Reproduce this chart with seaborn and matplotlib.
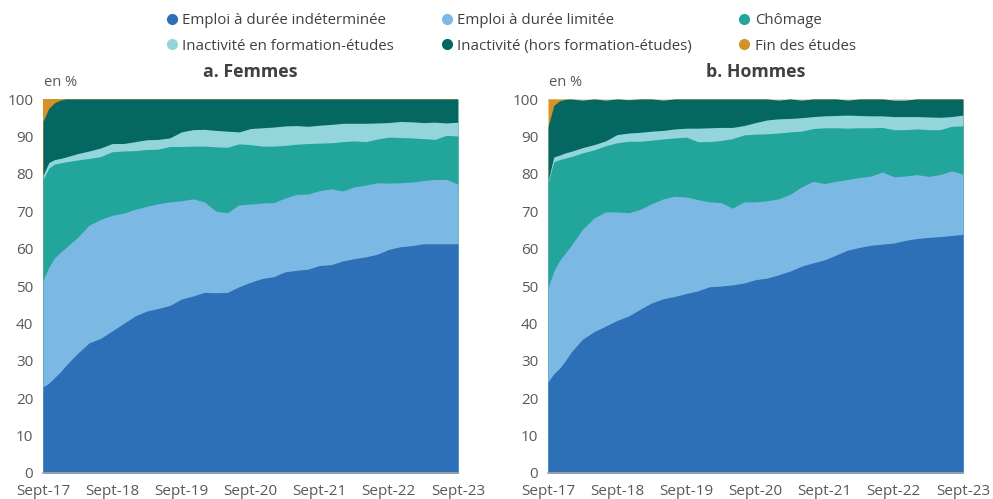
import numpy as np
import matplotlib
matplotlib.use("Agg")
import matplotlib.pyplot as plt
import seaborn as sns
from matplotlib.lines import Line2D

sns.set_theme(style="white")
plt.rcParams["font.family"] = ["Open Sans", "DejaVu Sans"]

# Months elapsed since September 2017
months = [0, 1, 2, 3, 4, 6, 8, 10, 12, 14, 16, 18, 20, 22, 24, 26, 28, 30, 32,
          34, 36, 38, 40, 42, 44, 46, 48, 50, 52, 54, 56, 58, 60, 62, 64, 66,
          68, 70, 72]
tick_months = [0, 12, 24, 36, 48, 60, 72]
tick_labels = ["Sept-17", "Sept-18", "Sept-19", "Sept-20", "Sept-21", "Sept-22", "Sept-23"]

series = ["Emploi à durée indéterminée", "Emploi à durée limitée", "Chômage",
          "Inactivité en formation-études", "Inactivité (hors formation-études)",
          "Fin des études"]
colors = ["#2e70b8", "#7bb9e4", "#22a59b", "#93d5da", "#056762", "#d49228"]

# Femmes : cumulative levels (upper edge of each layer, in %)
f_edi = [23.0, 24.0, 25.5, 27.0, 28.8, 32.0, 34.8, 36.0, 38.0, 40.0, 42.0, 43.3,
         44.0, 44.8, 46.5, 47.3, 48.3, 48.2, 48.3, 49.8, 51.0, 52.0, 52.5, 53.8,
         54.2, 54.5, 55.5, 55.7, 56.7, 57.3, 57.8, 58.5, 59.8, 60.5, 60.8, 61.3,
         61.3, 61.3, 61.3]
f_edl = [51.5, 55.0, 57.5, 59.0, 60.3, 63.0, 66.3, 67.8, 68.9, 69.5, 70.5, 71.3,
         72.0, 72.5, 72.8, 73.3, 72.5, 70.0, 69.6, 71.7, 71.9, 72.2, 72.3, 73.5,
         74.5, 74.6, 75.5, 76.0, 75.4, 76.5, 77.0, 77.6, 77.5, 77.6, 77.8, 78.2,
         78.5, 78.5, 77.2]
f_cho = [78.5, 81.5, 82.6, 82.9, 83.2, 83.7, 84.1, 84.6, 85.9, 86.1, 86.2, 86.5,
         86.6, 87.3, 87.3, 87.4, 87.4, 87.2, 87.1, 88.0, 87.8, 87.4, 87.4, 87.6,
         87.9, 88.1, 88.2, 88.3, 88.6, 88.8, 88.6, 89.3, 89.8, 89.7, 89.6, 89.4,
         89.2, 90.3, 90.1]
f_form = [79.5, 83.0, 83.8, 84.1, 84.5, 85.4, 86.1, 86.9, 88.1, 88.1, 88.6, 89.1,
          89.2, 89.6, 91.2, 91.8, 91.9, 91.6, 91.4, 91.2, 92.1, 92.3, 92.5, 92.8,
          92.9, 92.7, 93.0, 93.2, 93.5, 93.5, 93.5, 93.6, 93.7, 94.0, 93.9, 93.7,
          93.8, 93.6, 93.8]
f_hors = [94.0, 97.5, 99.0, 99.7] + [100.0] * 35
f_fin = [6.0, 2.5, 1.0, 0.3] + [0.0] * 35  # share, stacked on top

# Hommes : cumulative levels (upper edge of each layer, in %)
h_edi = [24.4, 26.5, 28.0, 30.0, 32.3, 35.8, 37.8, 39.3, 40.8, 42.0, 43.8, 45.5,
         46.6, 47.2, 48.0, 48.7, 49.8, 50.0, 50.3, 50.8, 51.7, 52.1, 53.0, 54.0,
         55.3, 56.2, 57.0, 58.3, 59.6, 60.3, 60.9, 61.2, 61.5, 62.2, 62.7, 63.0,
         63.2, 63.5, 63.8]
h_edl = [49.5, 54.0, 56.8, 58.8, 60.8, 65.2, 68.2, 69.8, 69.8, 69.6, 70.5, 72.0,
         73.3, 74.0, 73.8, 73.1, 72.5, 72.3, 70.8, 72.5, 72.5, 72.8, 73.3, 74.5,
         76.5, 78.0, 77.4, 78.0, 78.5, 79.0, 79.4, 80.5, 79.2, 79.4, 79.8, 79.3,
         79.8, 80.8, 79.9]
h_cho = [77.5, 83.2, 83.8, 84.2, 84.6, 85.6, 86.4, 87.5, 88.3, 88.7, 88.7, 89.0,
         89.3, 89.6, 89.8, 88.6, 88.6, 88.9, 89.4, 90.4, 90.6, 90.7, 90.9, 91.2,
         91.4, 92.1, 92.3, 92.3, 92.2, 92.3, 92.3, 92.4, 91.8, 91.8, 92.0, 91.8,
         91.8, 92.7, 92.8]
h_form = [78.0, 84.5, 85.0, 85.6, 86.0, 87.0, 87.8, 88.8, 90.5, 90.9, 91.1, 91.4,
          91.6, 92.0, 92.2, 92.2, 92.3, 92.4, 92.4, 92.9, 93.7, 94.4, 94.7, 94.8,
          95.0, 95.3, 95.5, 95.6, 95.7, 95.6, 95.5, 95.5, 95.3, 95.3, 95.3, 95.2,
          95.1, 95.3, 95.7]
h_hors = [92.6, 98.3, 99.5, 99.9, 100.0, 99.7, 100.0, 99.7, 100.0, 99.8, 100.0,
          100.0, 99.7, 100.0, 100.0, 100.0, 100.0, 100.0, 100.0, 100.0, 100.0,
          100.0, 99.7, 100.0, 99.7, 100.0, 100.0, 100.0, 99.7, 100.0, 100.0,
          100.0, 99.7, 99.7, 100.0, 100.0, 100.0, 100.0, 100.0]
h_fin = [7.4, 1.7, 0.5, 0.1] + [0.0] * 35

TICK_COLOR = "#595959"
W, H = 993, 499
fig = plt.figure(figsize=(W / 100, H / 100), dpi=100)


def draw_panel(left_px, levels, fin_share, title):
    ax = fig.add_axes([left_px / W, (H - 473) / H, 415 / W, 374 / H])
    tops = list(levels) + [np.asarray(levels[-1]) + np.asarray(fin_share)]
    # paint from the top layer down so adjacent areas share an edge without seams
    for top, col in reversed(list(zip(tops, colors))):
        ax.fill_between(months, 0, top, color=col, linewidth=0, zorder=2)
    ax.set_xlim(0, 72)
    ax.set_ylim(0, 100)
    ax.set_yticks(range(0, 101, 10))
    ax.set_xticks(tick_months)
    ax.set_xticklabels(tick_labels)
    ax.yaxis.grid(True, color="#d9d9d9", linewidth=1, zorder=0)
    ax.set_axisbelow(True)
    for side in ["left", "right", "top"]:
        ax.spines[side].set_visible(False)
    ax.spines["bottom"].set_color("#a6a6a6")
    ax.spines["bottom"].set_linewidth(1.2)
    ax.spines["bottom"].set_zorder(3)
    ax.tick_params(axis="both", length=0, labelsize=11, colors=TICK_COLOR)
    ax.tick_params(axis="y", pad=7)
    ax.tick_params(axis="x", pad=8)
    cx = (left_px + 415 / 2) / W
    fig.text(cx, 1 - 72 / H, title, ha="center", va="center", fontsize=12.8,
             fontweight="bold", color="#404040")
    fig.text((left_px + 1) / W, 1 - 83 / H, "en %", ha="left", va="center",
             fontsize=10.5, color=TICK_COLOR)
    return ax


draw_panel(43, [f_edi, f_edl, f_cho, f_form, f_hors], f_fin, "a. Femmes")
draw_panel(548, [h_edi, h_edl, h_cho, h_form, h_hors], h_fin, "b. Hommes")

handles = [Line2D([], [], marker="o", linestyle="none", markersize=7,
                  markerfacecolor=c, markeredgecolor=c) for c in colors]
order = [0, 3, 1, 4, 2, 5]
fig.legend([handles[i] for i in order], [series[i] for i in order],
           loc="upper center", bbox_to_anchor=(0.5136, 1.0), ncol=3, frameon=False,
           fontsize=10.8, handletextpad=0.2, columnspacing=3.0, labelspacing=0.68,
           handlelength=1.0, labelcolor="#404040")

fig.savefig("out.png", dpi=100)
